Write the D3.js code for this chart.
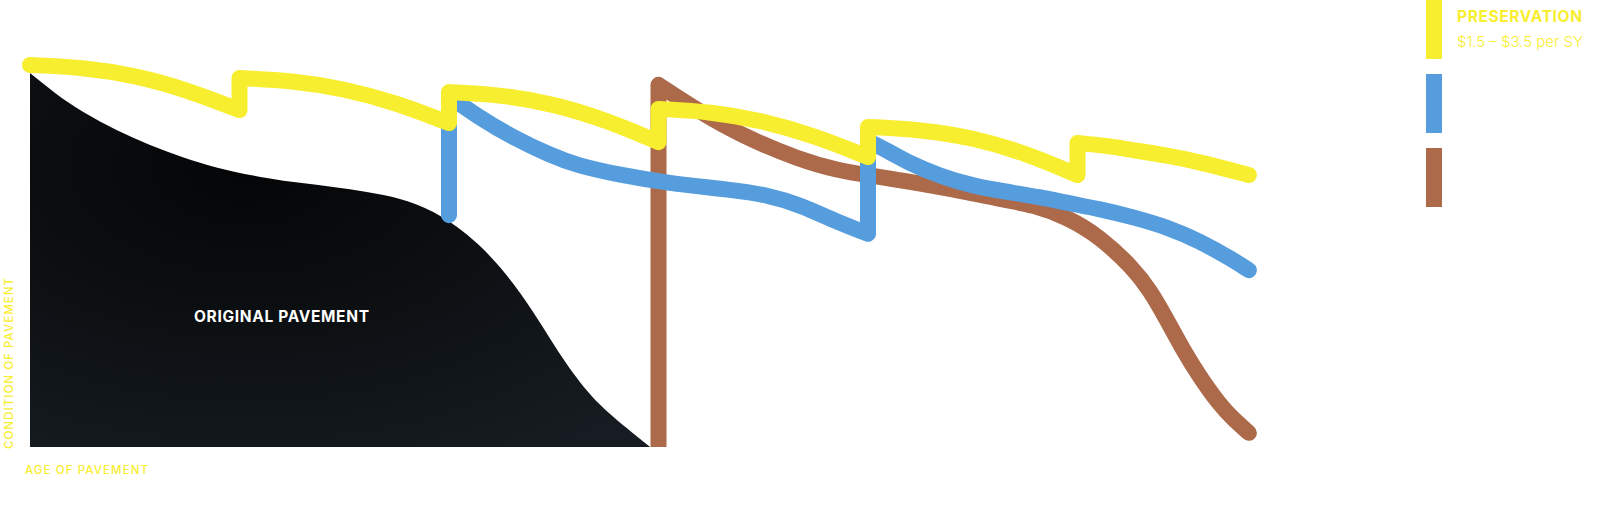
<!DOCTYPE html>
<html>
<head>
<meta charset="utf-8">
<script src="https://cdn.jsdelivr.net/npm/d3@7"></script>
<style>
  html, body { margin: 0; padding: 0; background: #ffffff; }
  svg { display: block; }
  text { font-family: Inter, Lato, "Noto Sans", sans-serif; }
</style>
</head>
<body>
<svg id="chart" width="1612" height="506"></svg>
<script>
// ---- Data (age in years, condition index 0-100) ----
const originalPavement = [
  [0, 97.9], [0.88, 90.1], [1.67, 85.1], [2.46, 80.9], [3.27, 77.2], [4.06, 74.3],
  [4.84, 72.0], [5.66, 70.4], [6.44, 69.1], [7.23, 68.1], [8.04, 66.8], [8.83, 65.2],
  [9.62, 62.0], [10.43, 56.0], [11.22, 47.6], [12.0, 35.9], [12.82, 20.9],
  [13.6, 10.5], [14.39, 3.7], [14.8, 0]
];

const preservationSegments = [
  [[0, 100], [1.25, 99.4], [2.5, 97.3], [3.75, 93.5], [5, 88.2]],
  [[5, 96.6], [6.25, 95.9], [7.5, 93.8], [8.75, 90.1], [10, 84.8]],
  [[10, 92.9], [11.25, 92.2], [12.5, 89.8], [13.75, 85.6], [15, 79.8]],
  [[15, 88.5], [16.25, 87.8], [17.5, 85.4], [18.75, 81.4], [20, 75.9]],
  [[20, 83.8], [21.25, 83.1], [22.5, 81.0], [23.75, 77.0], [25, 71.2]],
  [[25, 79.6], [25.67, 78.9], [26.34, 77.7], [27.14, 76.3], [27.92, 74.6], [29.09, 71.2]]
];

const blueStart = [10, 60.7];
const blueSegments = [
  [[10, 91.9], [10.74, 86.1], [11.55, 80.9], [12.41, 76.4], [13.03, 73.8], [14.08, 71.2],
   [15.2, 69.1], [16.78, 67.3], [17.59, 66.0], [18.38, 63.4], [19.16, 59.4], [20, 55.8]],
  [[20, 80.1], [20.53, 77.2], [20.93, 74.6], [21.72, 70.9], [22.51, 68.3], [23.32, 66.8],
   [24.11, 65.4], [24.75, 63.9], [25.54, 62.3], [26.32, 60.2], [27.14, 57.6], [27.92, 53.9],
   [28.71, 49.0], [29.09, 46.3]]
];

const brownStart = [15, 0];
const brownSegments = [
  [[15, 94.8], [15.99, 87.7], [16.95, 81.7], [18.38, 75.1], [19.33, 72.3], [19.98, 71.2],
   [20.76, 69.9], [22.36, 66.8], [23.15, 64.9], [23.94, 63.4], [24.75, 60.2], [25.54, 55.0],
   [26.32, 46.9], [26.73, 41.1], [27.14, 33.2], [27.52, 25.4], [27.92, 18.3], [28.4, 11.0],
   [28.71, 7.4], [29.09, 3.7]]
];

const legendItems = [
  { key: "preservation", title: "PRESERVATION", sub: "$1.5 \u2013 $3.5 per SY" },
  { key: "blue", title: "", sub: "" },
  { key: "brown", title: "", sub: "" }
];
const areaLabel = "ORIGINAL PAVEMENT";
const xAxisLabel = "AGE OF PAVEMENT";
const yAxisLabel = "CONDITION OF PAVEMENT";

// ---- Styles ----
const colors = { preservation: "#f8ee30", blue: "#569ddd", brown: "#ac6a4a" };

const svg = d3.select("#chart");
const x = d3.scaleLinear().domain([0, 30]).range([30, 30 + 30 * 41.9]);
const y = d3.scaleLinear().domain([0, 100]).range([447, 65]);

// gradient for original pavement
const defs = svg.append("defs");
const grad = defs.append("radialGradient").attr("id", "pave")
  .attr("cx", "0.35").attr("cy", "0.25").attr("r", "0.9");
grad.append("stop").attr("offset", "0").attr("stop-color", "#040506");
grad.append("stop").attr("offset", "1").attr("stop-color", "#161c21");
defs.append("clipPath").attr("id", "plotclip").append("rect")
  .attr("x", 0).attr("y", 0).attr("width", 1612).attr("height", y(0));

const area = d3.area().x(d => x(d[0])).y0(y(0)).y1(d => y(d[1])).curve(d3.curveBasis);
svg.append("path").datum(originalPavement).attr("d", area).attr("fill", "url(#pave)");

svg.append("text").attr("x", 194).attr("y", 322).attr("fill", "#ffffff")
  .attr("font-size", 15.5).attr("font-weight", 700)
  .attr("textLength", 175).attr("lengthAdjust", "spacing")
  .text(areaLabel);

const line = d3.line().x(d => x(d[0])).y(d => y(d[1])).curve(d3.curveBasis);
function buildPath(start, segments) {
  let d = start ? `M${x(start[0])},${y(start[1])}` : "";
  segments.forEach((seg) => {
    let s = line(seg);
    if (d !== "") s = "L" + s.slice(1);
    d += s;
  });
  return d;
}

const g = svg.append("g").attr("clip-path", "url(#plotclip)");
[
  { key: "brown", start: brownStart, segs: brownSegments },
  { key: "blue", start: blueStart, segs: blueSegments },
  { key: "preservation", start: null, segs: preservationSegments }
].forEach(s => {
  g.append("path").attr("d", buildPath(s.start, s.segs))
    .attr("fill", "none").attr("stroke", colors[s.key])
    .attr("stroke-width", 16).attr("stroke-linecap", "round").attr("stroke-linejoin", "round");
});

// axis labels
svg.append("text").attr("x", 25).attr("y", 474).attr("fill", colors.preservation)
  .attr("font-size", 11.5).attr("font-weight", 500)
  .attr("textLength", 123).attr("lengthAdjust", "spacing").text(xAxisLabel);
svg.append("text").attr("transform", "translate(12.5,449) rotate(-90)")
  .attr("fill", colors.preservation).attr("font-size", 11.5).attr("font-weight", 500)
  .attr("textLength", 171).attr("lengthAdjust", "spacing").text(yAxisLabel);

// legend
const lg = svg.append("g");
legendItems.forEach((it, i) => {
  lg.append("rect").attr("x", 1426).attr("y", i * 74).attr("width", 16).attr("height", 59)
    .attr("fill", colors[it.key]);
  if (it.title) {
    lg.append("text").attr("x", 1457).attr("y", i * 74 + 22).attr("fill", colors[it.key])
      .attr("font-size", 15.5).attr("font-weight", 700)
      .attr("textLength", 125).attr("lengthAdjust", "spacing").text(it.title);
    lg.append("text").attr("x", 1457).attr("y", i * 74 + 47).attr("fill", colors[it.key])
      .attr("font-size", 15).attr("font-weight", 300)
      .attr("textLength", 126).attr("lengthAdjust", "spacing").text(it.sub);
  }
});
</script>
</body>
</html>
